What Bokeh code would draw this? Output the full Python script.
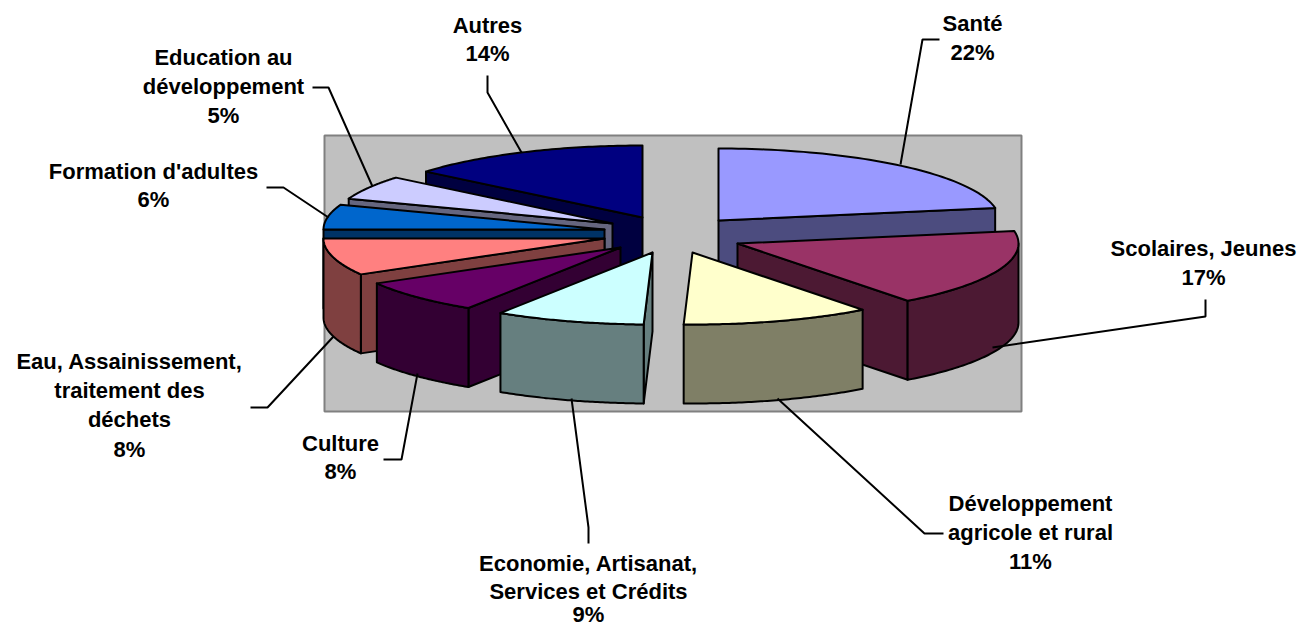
import numpy as np
from bokeh.core.properties import value
from bokeh.embed import file_html
from bokeh.models import Range1d
from bokeh.plotting import figure
from bokeh.resources import INLINE

# ---- data (percent shares, clockwise from 12 o'clock)
categories = ["Santé", "Scolaires, Jeunes", "Développement agricole et rural",
              "Economie, Artisanat, Services et Crédits", "Culture",
              "Eau, Assainissement, traitement des déchets",
              "Formation d'adultes", "Education au développement", "Autres"]
shares = [22.2, 17.45, 10.85, 8.6, 7.6, 8.3, 5.6, 5.4, 14.0]
top_colors = ["#9999FF", "#993366", "#FFFFCC", "#CCFFFF", "#660066",
              "#FF8080", "#0066CC", "#CCCCFF", "#000080"]
side_colors = ["#4C4C7F", "#4C1933", "#7F7F66", "#667F7F", "#330033",
               "#7F4040", "#003366", "#66667F", "#000040"]

# ---- layout (page pixels)
W, H = 1303, 627
PIE_X, PIE_Y = 680, 235
RX, RY, DEPTH = 281, 72, 79
EXPLODE_X = [38, 57, 12, -28, -60, -76, -76, -68, -38]
EXPLODE_Y = [-15, 8, 17, 17, 12, 3, -6, -12, -18]
DRAW_ORDER = [0, 1, 2, 8, 7, 6, 5, 4, 3]
FONT = "Liberation Sans"
FONT_SIZE = "22px"

label_lines = [
    (["Santé"], 972, [23, 52]),
    (["Scolaires, Jeunes"], 1203, [248, 277]),
    (["Développement", "agricole et rural"], 1030, [503, 532, 561]),
    (["Economie, Artisanat,", "Services et Crédits"], 588, [563, 591, 614]),
    (["Culture"], 340, [443, 471]),
    (["Eau, Assainissement,", "traitement des", "déchets"], 129, [361, 390, 419, 449]),
    (["Formation d'adultes"], 153, [171, 199]),
    (["Education au", "développement"], 223, [57, 86, 115]),
    (["Autres"], 487, [25, 53]),
]
leaders = [
    ([939, 922, 900], [39, 39, 164]),
    ([1205, 1205, 992], [299, 316, 347]),
    ([943, 924, 777], [533, 533, 398]),
    ([588, 588, 571], [543, 527, 398]),
    ([383, 401, 417], [459, 459, 373]),
    ([250, 267, 333], [407, 407, 336]),
    ([266, 283, 328], [187, 187, 217]),
    ([312, 328, 372], [87, 87, 186]),
    ([487, 487, 521], [75, 92, 152]),
]

p = figure(width=W, height=H, output_backend="svg", toolbar_location=None,
           x_range=Range1d(0, W), y_range=Range1d(H, 0),
           x_axis_type=None, y_axis_type=None, min_border=0,
           outline_line_color=None, background_fill_color="white")
p.grid.visible = False

# plot wall
p.quad(left=324, right=1021, top=135, bottom=411, fill_color="#C0C0C0",
       line_color="#808080", line_width=2)

edges = np.concatenate([[0], np.cumsum(shares)]) / sum(shares) * 2 * np.pi


def arc(cx, cy, a0, a1, dy=0.0, n=60):
    t = np.linspace(a0, a1, n)
    return cx + RX * np.sin(t), cy - RY * np.cos(t) + dy


def face(xs, ys, color):
    p.patch(list(xs), list(ys), fill_color=color, line_color="black",
            line_width=2, line_join="round")


for i in DRAW_ORDER:
    a0, a1 = edges[i], edges[i + 1]
    cx, cy = PIE_X + EXPLODE_X[i], PIE_Y + EXPLODE_Y[i]
    side = side_colors[i]
    # radial walls that face the viewer
    for a, visible in ((a0, np.sin(a0) < 0), (a1, np.sin(a1) > 0)):
        if visible:
            ex, ey = cx + RX * np.sin(a), cy - RY * np.cos(a)
            face([cx, ex, ex, cx], [cy, ey, ey + DEPTH, cy + DEPTH], side)
    # outer wall on the front half of the rim
    lo, hi = max(a0, np.pi / 2), min(a1, 3 * np.pi / 2)
    if hi > lo:
        ax, ay = arc(cx, cy, lo, hi)
        face(np.concatenate([ax, ax[::-1]]),
             np.concatenate([ay, ay[::-1] + DEPTH]), side)
    # top face
    ax, ay = arc(cx, cy, a0, a1)
    face(np.concatenate([[cx], ax]), np.concatenate([[cy], ay]), top_colors[i])

# leader lines
for xs, ys in leaders:
    p.line(xs, ys, line_color="black", line_width=2)

# labels
for (lines, x, ys), share in zip(label_lines, shares):
    texts = lines + [f"{round(share)}%"]
    p.text(x=[x] * len(texts), y=ys, text=texts, text_font=value(FONT),
           text_font_size=value(FONT_SIZE), text_font_style="bold",
           text_align="center", text_baseline="middle", text_color="black")

open("out.html", "w").write(file_html(p, INLINE))
